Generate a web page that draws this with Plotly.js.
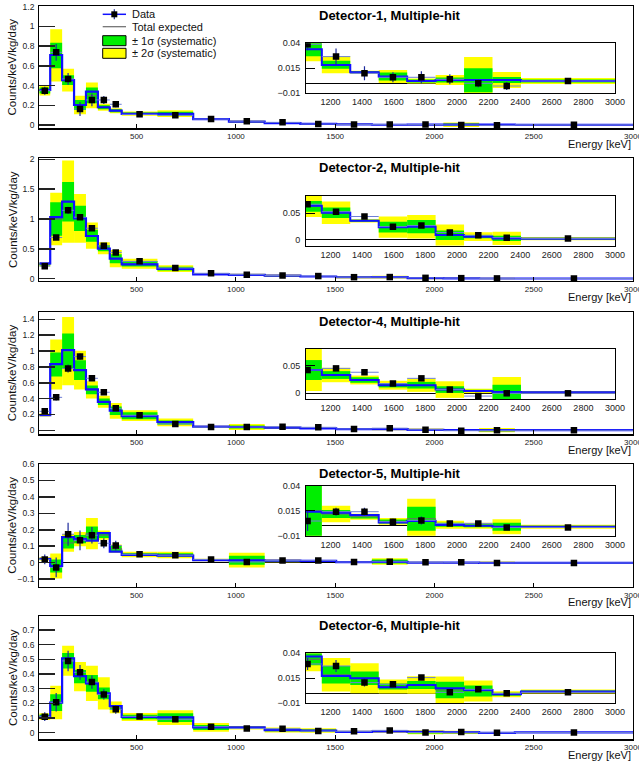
<!DOCTYPE html>
<html><head><meta charset="utf-8">
<script src="https://cdn.plot.ly/plotly-3.0.1.min.js"></script>
<style>html,body{margin:0;padding:0;background:#fff;} #chart{width:639px;height:766px;}</style>
</head><body><div id="chart"></div>
<script>
// ---------------- DATA ----------------
const binEdges = [10, 65, 125, 185, 245, 305, 365, 425, 605, 785, 965, 1145, 1325, 1505, 1685, 1865, 2045, 2225, 2405, 3000];

// Detector-1
const det1Data = [0.348, 0.737, 0.467, 0.162, 0.254, 0.254, 0.210, 0.108, 0.098, 0.060, 0.039, 0.0267, 0.0100, 0.0060, 0.0060, 0.0040, 0.0000, -0.0027, 0.0023];
const det1Err  = [0.040, 0.085, 0.060, 0.070, 0.065, 0.040, 0.030, 0.008, 0.010, 0.006, 0.006, 0.008, 0.007, 0.005, 0.006, 0.005, 0.004, 0.004, 0.002];
const det1Fit  = [0.355, 0.710, 0.456, 0.203, 0.338, 0.180, 0.145, 0.112, 0.112, 0.060, 0.034, 0.0183, 0.0110, 0.0067, 0.0023, 0.0033, 0.0033, 0.0033, 0.0023];
const det1Exp  = [0.350, 0.705, 0.455, 0.203, 0.300, 0.180, 0.145, 0.115, 0.115, 0.060, 0.034, 0.0185, 0.0110, 0.0067, 0.0023, 0.0033, 0.0030, 0.0033, 0.0023];
const det1Sig1 = [0.030, 0.130, 0.050, 0.050, 0.080, 0.020, 0.015, 0.012, 0.020, 0.004, 0.007, 0.004, 0.0010, 0.0040, 0.0015, 0.0025, 0.0120, 0.0030, 0.0015];
const det1Sig2 = [0.050, 0.265, 0.115, 0.093, 0.130, 0.035, 0.025, 0.022, 0.034, 0.008, 0.012, 0.0085, 0.0015, 0.0065, 0.0025, 0.0050, 0.0233, 0.0080, 0.0030];

// Detector-2
const det2Data = [0.210, 0.690, 1.145, 1.030, 0.845, 0.550, 0.440, 0.290, 0.180, 0.090, 0.067, 0.053, 0.044, 0.025, 0.027, 0.014, 0.0088, 0.0044, 0.0030];
const det2Err  = [0.025, 0.040, 0.060, 0.040, 0.035, 0.030, 0.025, 0.012, 0.010, 0.006, 0.004, 0.004, 0.003, 0.003, 0.003, 0.002, 0.002, 0.002, 0.001];
const det2Fit  = [0.257, 1.030, 1.290, 1.010, 0.715, 0.503, 0.335, 0.240, 0.162, 0.073, 0.064, 0.051, 0.036, 0.024, 0.025, 0.0094, 0.0063, 0.0030, 0.0025];
const det2Exp  = [0.240, 1.000, 1.290, 1.010, 0.720, 0.510, 0.335, 0.250, 0.168, 0.073, 0.063, 0.051, 0.036, 0.024, 0.025, 0.0090, 0.0063, 0.0030, 0.0025];
const det2Sig1 = [0.020, 0.280, 0.330, 0.210, 0.100, 0.050, 0.075, 0.048, 0.033, 0.006, 0.010, 0.010, 0.002, 0.010, 0.0125, 0.009, 0.003, 0.005, 0.0015];
const det2Sig2 = [0.034, 0.440, 0.690, 0.410, 0.220, 0.100, 0.145, 0.085, 0.056, 0.012, 0.020, 0.021, 0.003, 0.020, 0.022, 0.020, 0.008, 0.0125, 0.003];

// Detector-4
const det4Data = [0.240, 0.416, 0.780, 0.930, 0.656, 0.480, 0.277, 0.190, 0.080, 0.042, 0.042, 0.045, 0.038, 0.0177, 0.027, 0.0067, -0.005, 0.000, 0.000];
const det4Err  = [0.020, 0.040, 0.050, 0.040, 0.030, 0.020, 0.020, 0.012, 0.008, 0.005, 0.004, 0.003, 0.003, 0.002, 0.003, 0.002, 0.003, 0.002, 0.001];
const det4Fit  = [0.193, 0.836, 1.013, 0.760, 0.517, 0.360, 0.248, 0.180, 0.105, 0.046, 0.042, 0.033, 0.024, 0.0146, 0.0146, 0.0067, 0.0043, 0.0024, 0.0018];
const det4Exp  = [0.193, 0.830, 1.000, 0.760, 0.510, 0.360, 0.246, 0.185, 0.100, 0.046, 0.042, 0.033, 0.024, 0.0146, 0.0146, 0.0067, 0.0043, 0.0024, 0.0018];
const det4Sig1 = [0.010, 0.150, 0.220, 0.125, 0.055, 0.040, 0.053, 0.044, 0.025, 0.006, 0.018, 0.007, 0.005, 0.004, 0.006, 0.006, 0.002, 0.013, 0.001];
const det4Sig2 = [0.020, 0.315, 0.430, 0.245, 0.110, 0.075, 0.100, 0.067, 0.050, 0.012, 0.038, 0.013, 0.008, 0.008, 0.012, 0.015, 0.004, 0.027, 0.002];

// Detector-5
const det5Data = [0.020, -0.029, 0.173, 0.136, 0.167, 0.118, 0.104, 0.051, 0.045, 0.020, 0.0047, 0.014, 0.014, 0.004, 0.0053, 0.0023, 0.0023, -0.0017, -0.0017];
const det5Err  = [0.030, 0.060, 0.070, 0.060, 0.050, 0.030, 0.030, 0.008, 0.008, 0.005, 0.010, 0.004, 0.004, 0.003, 0.004, 0.002, 0.002, 0.002, 0.001];
const det5Fit  = [0.024, -0.020, 0.155, 0.143, 0.134, 0.180, 0.067, 0.047, 0.043, 0.016, 0.014, 0.013, 0.0107, 0.0033, 0.0047, 0.0007, 0.0000, -0.0010, -0.0010];
const det5Exp  = [0.024, -0.020, 0.120, 0.143, 0.177, 0.167, 0.085, 0.050, 0.047, 0.016, 0.015, 0.0117, 0.0090, 0.0043, 0.0070, 0.0010, 0.0000, -0.0010, -0.0010];
const det5Sig1 = [0.005, 0.040, 0.034, 0.025, 0.043, 0.017, 0.018, 0.008, 0.010, 0.004, 0.027, 0.004, 0.0017, 0.0020, 0.012, 0.002, 0.0015, 0.004, 0.001];
const det5Sig2 = [0.010, 0.076, 0.054, 0.043, 0.095, 0.028, 0.025, 0.017, 0.020, 0.008, 0.045, 0.0083, 0.0030, 0.0033, 0.020, 0.004, 0.003, 0.0075, 0.002];

// Detector-6
const det6Data = [0.109, 0.207, 0.489, 0.411, 0.345, 0.261, 0.159, 0.111, 0.091, 0.041, 0.0293, 0.0273, 0.0107, 0.0090, 0.0157, 0.0010, 0.0040, 0.0000, 0.0010];
const det6Err  = [0.030, 0.063, 0.070, 0.050, 0.045, 0.035, 0.030, 0.010, 0.008, 0.005, 0.006, 0.006, 0.004, 0.003, 0.002, 0.003, 0.002, 0.002, 0.001];
const det6Fit  = [0.109, 0.205, 0.507, 0.386, 0.336, 0.268, 0.182, 0.107, 0.105, 0.036, 0.0367, 0.0173, 0.0150, 0.0060, 0.0083, 0.0050, 0.0033, -0.0010, 0.0017];
const det6Exp  = [0.109, 0.205, 0.490, 0.382, 0.336, 0.268, 0.172, 0.107, 0.103, 0.036, 0.0340, 0.0185, 0.0150, 0.0067, 0.0083, 0.0033, 0.0023, -0.0010, 0.0017];
const det6Sig1 = [0.015, 0.057, 0.053, 0.045, 0.057, 0.040, 0.015, 0.015, 0.030, 0.017, 0.006, 0.0087, 0.0067, 0.0030, 0.0040, 0.0083, 0.0055, 0.0015, 0.0010];
const det6Sig2 = [0.023, 0.114, 0.102, 0.100, 0.120, 0.110, 0.040, 0.027, 0.050, 0.030, 0.012, 0.0167, 0.0150, 0.0070, 0.0087, 0.0135, 0.0105, 0.0030, 0.0020];

const panelTitles = ['Detector-1, Multiple-hit', 'Detector-2, Multiple-hit', 'Detector-4, Multiple-hit', 'Detector-5, Multiple-hit', 'Detector-6, Multiple-hit'];
const yTitle = 'Counts/keV/kg/day';
const xTitle = 'Energy [keV]';
const legendLabels = ['Data', 'Total expected', '± 1σ (systematic)', '± 2σ (systematic)'];
const mainXTicks = [500, 1000, 1500, 2000, 2500, 3000];
const insetXTicks = [1200, 1400, 1600, 1800, 2000, 2200, 2400, 2600, 2800, 3000];
const mainYTicks = [
  [0, 0.2, 0.4, 0.6, 0.8, 1, 1.2],
  [0, 0.5, 1, 1.5, 2],
  [0, 0.2, 0.4, 0.6, 0.8, 1, 1.2, 1.4],
  [-0.1, 0, 0.1, 0.2, 0.3, 0.4, 0.5, 0.6],
  [0, 0.1, 0.2, 0.3, 0.4, 0.5, 0.6, 0.7]
];
const insetYTicks = [
  [-0.01, 0.015, 0.04],
  [0, 0.05],
  [0, 0.05],
  [-0.01, 0.015, 0.04],
  [-0.01, 0.015, 0.04]
];

// ---------------- LAYOUT GEOMETRY (pixels) ----------------
const W = 639, H = 766;
const fx = p => p / W, fy = p => 1 - p / H;
const frameTop = [6, 158.3, 311.7, 464, 616];
const frameBot = [128.3, 281, 434.3, 586.7, 739.3];
const mainYRange = [[-0.0335, 1.207], [-0.039, 2.017], [-0.05, 1.496], [-0.146, 0.6], [-0.045, 0.795]];
const insetTop = [43.3, 195.7, 349, 485.7, 653.3];
const insetH = 50;
const insetYRange = [[-0.01, 0.04], [-0.0107, 0.083], [-0.0103, 0.080], [-0.01, 0.04], [-0.01, 0.04]];
const mainXpx = [39.3, 633], insetXpx = [306, 615];

const panels = [
  {data: det1Data, err: det1Err, fit: det1Fit, exp: det1Exp, s1: det1Sig1, s2: det1Sig2},
  {data: det2Data, err: det2Err, fit: det2Fit, exp: det2Exp, s1: det2Sig1, s2: det2Sig2},
  {data: det4Data, err: det4Err, fit: det4Fit, exp: det4Exp, s1: det4Sig1, s2: det4Sig2},
  {data: det5Data, err: det5Err, fit: det5Fit, exp: det5Exp, s1: det5Sig1, s2: det5Sig2},
  {data: det6Data, err: det6Err, fit: det6Fit, exp: det6Exp, s1: det6Sig1, s2: det6Sig2}
];

const centers = binEdges.slice(0, -1).map((e, i) => (e + binEdges[i + 1]) / 2);
const widths = binEdges.slice(0, -1).map((e, i) => binEdges[i + 1] - e);
const halfW = widths.map(w => w / 2);

const FONT = 'Liberation Sans, Arial, Helvetica, sans-serif';
const YELLOW = '#ffff00', GREEN = '#00ee00', BLUE = '#1010ff';

const traces = [];
function addSet(xa, ya, p, inset) {
  traces.push({type: 'bar', x: centers, y: p.s2.map(s => 2 * s), base: p.exp.map((m, i) => m - p.s2[i]),
    width: widths, xaxis: xa, yaxis: ya, marker: {color: YELLOW, line: {width: 0}}, opacity: 1, hoverinfo: 'skip'});
  traces.push({type: 'bar', x: centers, y: p.s1.map(s => 2 * s), base: p.exp.map((m, i) => m - p.s1[i]),
    width: widths, xaxis: xa, yaxis: ya, marker: {color: GREEN, line: {width: 0}}, opacity: 1, hoverinfo: 'skip'});
  traces.push({type: 'scatter', mode: 'lines', x: binEdges, y: p.exp.concat([p.exp[p.exp.length - 1]]),
    xaxis: xa, yaxis: ya, line: {shape: 'hv', color: '#6a6a6a', width: 1}, hoverinfo: 'skip'});
  traces.push({type: 'scatter', mode: 'lines', x: binEdges, y: p.fit.concat([p.fit[p.fit.length - 1]]),
    xaxis: xa, yaxis: ya, line: {shape: 'hv', color: BLUE, width: inset ? 2 : 2.2}, hoverinfo: 'skip'});
  traces.push({type: 'scatter', mode: 'markers', x: centers, y: p.data, xaxis: xa, yaxis: ya,
    marker: {symbol: 'square', size: 6.5, color: '#000'},
    error_y: {type: 'data', array: p.err, visible: true, color: '#1c2a9c', thickness: 1.2, width: 0},
    error_x: {type: 'data', array: halfW, visible: true, color: '#6e7fd6', thickness: 1, width: 0},
    hoverinfo: 'skip'});
}

const layout = {
  width: W, height: H, margin: {l: 0, r: 0, t: 0, b: 0},
  paper_bgcolor: '#fff', plot_bgcolor: '#fff',
  showlegend: false, barmode: 'overlay',
  font: {family: FONT, color: '#222'},
  shapes: [], annotations: []
};

panels.forEach((p, i) => {
  const mx = i === 0 ? 'x' : 'x' + (i + 1);
  const my = i === 0 ? 'y' : 'y' + (i + 1);
  addSet(mx, my, p, false);
  const axKeyX = i === 0 ? 'xaxis' : 'xaxis' + (i + 1);
  const axKeyY = i === 0 ? 'yaxis' : 'yaxis' + (i + 1);
  layout[axKeyX] = {domain: [fx(mainXpx[0]), fx(mainXpx[1])], range: [binEdges[0], 3000], anchor: my,
    tickvals: mainXTicks, ticks: 'inside', ticklen: 4, tickcolor: '#000', ticklabeloverflow: 'allow',
    showline: true, mirror: true, linecolor: '#000', linewidth: 1.2, showgrid: false, zeroline: false,
    tickfont: {size: 8, family: FONT, color: '#222'}};
  layout[axKeyY] = {domain: [fy(frameBot[i]), fy(frameTop[i])], range: mainYRange[i], anchor: mx,
    tickvals: mainYTicks[i], ticks: 'inside', ticklen: 16, tickwidth: 1.5, tickcolor: '#222',
    showline: true, mirror: true, linecolor: '#000', linewidth: 1.2, showgrid: false,
    zeroline: i === 3, zerolinecolor: '#000', zerolinewidth: 1,
    ticklabelstandoff: 2, tickfont: {size: 8.5, family: FONT, color: '#222'}};
});
panels.forEach((p, i) => {
  const ix = 'x' + (i + 6), iy = 'y' + (i + 6);
  addSet(ix, iy, p, true);
  layout['xaxis' + (i + 6)] = {domain: [fx(insetXpx[0]), fx(insetXpx[1])], range: [1045, 3000], anchor: iy,
    tickvals: insetXTicks, ticks: '', showline: true, mirror: true, linecolor: '#000', linewidth: 1,
    showgrid: false, zeroline: false, tickfont: {size: 9, family: FONT, color: '#222'}};
  layout['yaxis' + (i + 6)] = {domain: [fy(insetTop[i] + insetH), fy(insetTop[i])], range: insetYRange[i], anchor: ix,
    tickvals: insetYTicks[i], ticks: 'inside', ticklen: 9, tickcolor: '#000',
    showline: true, mirror: true, linecolor: '#000', linewidth: 1, showgrid: false,
    zeroline: true, zerolinecolor: '#000', zerolinewidth: 1,
    ticklabelstandoff: 3, tickfont: {size: 9, family: FONT, color: '#222'}};

  // texts
  layout.annotations.push({xref: 'paper', yref: 'paper', x: fx(316.5), y: fy(frameTop[i] + 9.5),
    xanchor: 'left', yanchor: 'middle', showarrow: false, text: '<b>' + panelTitles[i] + '</b>',
    font: {size: 13, family: FONT, color: '#000'}});
  layout.annotations.push({xref: 'paper', yref: 'paper', x: fx(633), y: fy(frameBot[i] + 15.5),
    xanchor: 'right', yanchor: 'middle', showarrow: false, text: xTitle,
    font: {size: 11, family: FONT, color: '#111'}});
  layout.annotations.push({xref: 'paper', yref: 'paper', x: fx(12.3), y: fy((frameTop[i] + frameBot[i]) / 2),
    xanchor: 'center', yanchor: 'middle', showarrow: false, text: yTitle, textangle: -90,
    font: {size: 11.5, family: FONT, color: '#111'}});
});

// legend (panel 1)
const legX0 = 102.7, legX1 = 126, legTextX = 130;
const legRows = [14.3, 26.7, 40.7, 53.3];
layout.shapes.push({type: 'line', xref: 'paper', yref: 'paper', x0: fx(legX0), x1: fx(legX1), y0: fy(legRows[0]), y1: fy(legRows[0]), line: {color: BLUE, width: 1.5}});
layout.shapes.push({type: 'line', xref: 'paper', yref: 'paper', x0: fx(114.3), x1: fx(114.3), y0: fy(legRows[0] - 5), y1: fy(legRows[0] + 5), line: {color: '#1c2a9c', width: 1.2}});
layout.shapes.push({type: 'rect', xref: 'paper', yref: 'paper', x0: fx(111.3), x1: fx(117.3), y0: fy(legRows[0] - 3), y1: fy(legRows[0] + 3), fillcolor: '#000', line: {width: 0}});
layout.shapes.push({type: 'line', xref: 'paper', yref: 'paper', x0: fx(legX0), x1: fx(legX1), y0: fy(legRows[1]), y1: fy(legRows[1]), line: {color: '#6a6a6a', width: 1.2}});
layout.shapes.push({type: 'rect', xref: 'paper', yref: 'paper', x0: fx(legX0), x1: fx(legX1), y0: fy(legRows[2] - 5), y1: fy(legRows[2] + 5), fillcolor: GREEN, line: {color: '#000', width: 1}});
layout.shapes.push({type: 'rect', xref: 'paper', yref: 'paper', x0: fx(legX0), x1: fx(legX1), y0: fy(legRows[3] - 5), y1: fy(legRows[3] + 5), fillcolor: YELLOW, line: {color: '#000', width: 1}});
legendLabels.forEach((t, k) => {
  layout.annotations.push({xref: 'paper', yref: 'paper', x: fx(legTextX), y: fy(legRows[k]),
    xanchor: 'left', yanchor: 'middle', showarrow: false, text: t,
    font: {size: 11, family: FONT, color: '#111'}});
});

Plotly.newPlot('chart', traces, layout, {displayModeBar: false, staticPlot: true});
</script>
</body></html>
